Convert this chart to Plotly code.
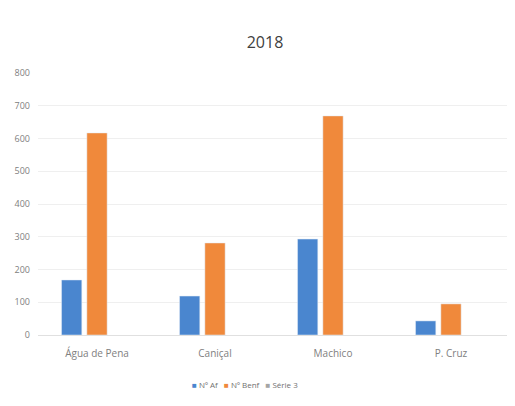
import plotly.graph_objects as go

categories = ["Água de Pena", "Caniçal", "Machico", "P. Cruz"]
n_af = [168, 119, 293, 43]
n_benf = [617, 281, 669, 95]
serie3 = [None, None, None, None]
y_ticks = [0, 100, 200, 300, 400, 500, 600, 700, 800]

series = [("Nº Af", n_af, "#4a86cf"), ("Nº Benf", n_benf, "#f0893b"), ("Série 3", serie3, "#a5a5a5")]

font = "Open Sans, Liberation Sans, sans-serif"
fig = go.Figure()
for name, vals, col in series:
    fig.add_trace(go.Bar(name=name, x=categories, y=vals, marker_color=col, showlegend=False))

# compact legend as one line of text with coloured squares
legend_text = "&nbsp;&nbsp;&nbsp;".join(
    f'<span style="color:{col}">■</span> {name}' for name, _, col in series)

# page has an 8px body margin, so the figure is 8px smaller and offset
W, H = 507, 398
fig.update_layout(
    width=W, height=H,
    margin=dict(l=30, r=5, t=65, b=71),
    paper_bgcolor="white", plot_bgcolor="white",
    barmode="group", bargap=0.356, bargroupgap=0.2,
    title=dict(text="2018", x=257 / W, xanchor="center", y=1 - 34 / H, yanchor="middle",
               font=dict(family=font, size=16, color="#404040")),
    showlegend=False,
    font=dict(family=font, size=9, color="#808080"),
    annotations=[dict(text=legend_text, xref="paper", yref="paper",
                      x=(245 - 8 - 30) / 472, y=-(384 - 335) / 262,
                      xanchor="center", yanchor="middle", showarrow=False,
                      font=dict(family=font, size=8, color="#707070"))],
)
fig.update_yaxes(range=[0, 800], tickvals=y_ticks, showgrid=True, gridcolor="#efefef",
                 gridwidth=1, zeroline=False, showline=False, ticks="",
                 tickfont=dict(size=9, color="#808080"), ticklabelstandoff=7)
fig.update_xaxes(showline=True, linecolor="#e0e0e0", ticks="", ticklabelstandoff=9,
                 tickfont=dict(size=10, color="#808080"))

fig.write_html("out.html")
